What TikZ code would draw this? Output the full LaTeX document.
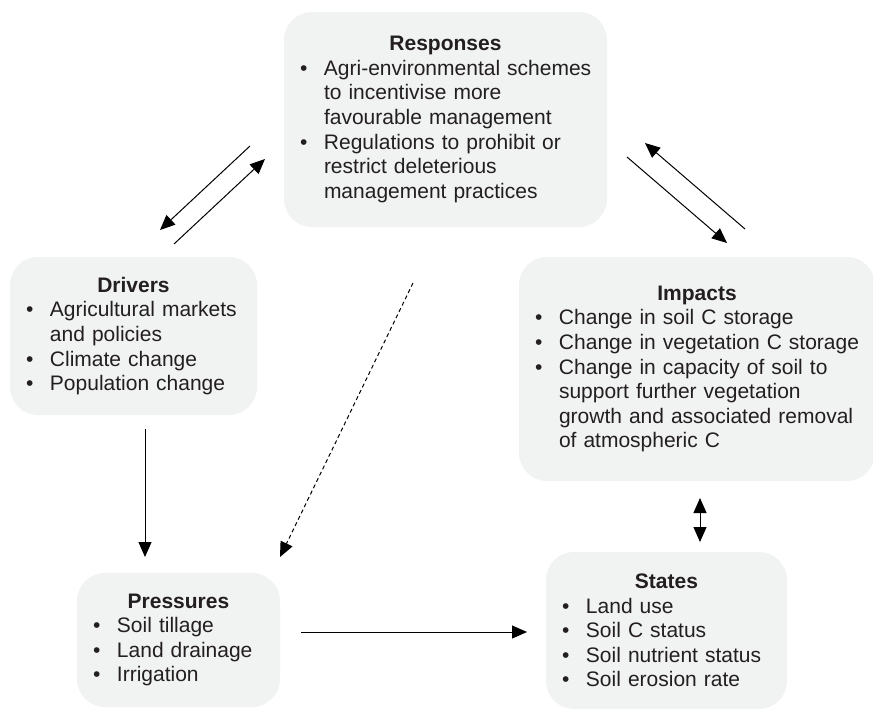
\documentclass[tikz,border=0pt]{standalone}
\usepackage{fontspec}
\setmainfont{Liberation Sans}
\usetikzlibrary{arrows.meta}
\definecolor{PanelGray}{RGB}{241,242,242}
\definecolor{InkGray}{RGB}{35,31,32}
\newcommand{\panelhead}[1]{{\centering\bfseries #1\par}}
\newcommand{\bitem}[1]{\mbox{\makebox[24pt][l]{\textbullet}#1}}
\newcommand{\bcont}[1]{\mbox{\hspace*{24pt}#1}}

\begin{document}
\begin{tikzpicture}[x=1pt,y=-1pt,>={Triangle[length=15pt,width=13pt]},
    panel/.style={rectangle,rounded corners=28pt,fill=PanelGray,text=InkGray,
      inner xsep=16pt,inner ysep=0pt,align=left,font=\fontsize{21}{24.6}\selectfont},
    link/.style={->,line width=1pt,black}]
      \useasboundingbox (0,0) rectangle (873,710);
      % the five boxes
      \node[panel,text width=291pt,minimum height=215pt] (resp) at (445.5,119.5) {\panelhead{Responses}
        \bitem{Agri-environmental schemes}\\ \bcont{to incentivise more}\\ \bcont{favourable management}\\
        \bitem{Regulations to prohibit or}\\ \bcont{restrict deleterious}\\ \bcont{management practices}};
      \node[panel,text width=215pt,minimum height=158pt] (drv) at (133.5,336) {\panelhead{Drivers}
        \bitem{Agricultural markets}\\ \bcont{and policies}\\ \bitem{Climate change}\\ \bitem{Population change}};
      \node[panel,text width=324pt,minimum height=224pt] (imp) at (697,369) {\panelhead{Impacts}
        \bitem{Change in soil C storage}\\ \bitem{Change in vegetation C storage}\\
        \bitem{Change in capacity of soil to}\\ \bcont{support further vegetation}\\
        \bcont{growth and associated removal}\\ \bcont{of atmospheric C}};
      \node[panel,text width=171pt,minimum height=134pt] (prs) at (178.5,640) {\panelhead{Pressures}
        \bitem{Soil tillage}\\ \bitem{Land drainage}\\ \bitem{Irrigation}};
      \node[panel,text width=209pt,minimum height=157pt] (sta) at (666.5,630.5) {\panelhead{States}
        \bitem{Land use}\\ \bitem{Soil C status}\\ \bitem{Soil nutrient status}\\ \bitem{Soil erosion rate}};
      % arrow ends
      \coordinate (rd1) at (250,146); \coordinate (rd2) at (160,230);
      \coordinate (dr1) at (174,244); \coordinate (dr2) at (265,159);
      \coordinate (ri1) at (627,157); \coordinate (ri2) at (727,243);
      \coordinate (ir1) at (745,229); \coordinate (ir2) at (645,143);
      \coordinate (rp1) at (413,283); \coordinate (rp2) at (280,557);
      \coordinate (dp1) at (145,429); \coordinate (dp2) at (145,557);
      \coordinate (ps1) at (301,632); \coordinate (ps2) at (527,632);
      \coordinate (is1) at (700,498); \coordinate (is2) at (700,542);
      \draw[link] (rd1) -- (rd2);
      \draw[link] (dr1) -- (dr2);
      \draw[link] (ri1) -- (ri2);
      \draw[link] (ir1) -- (ir2);
      \draw[link,dash pattern=on 4pt off 3pt] (rp1) -- (rp2);
      \draw[link] (dp1) -- (dp2);
      \draw[link] (ps1) -- (ps2);
      \draw[link,<->] (is1) -- (is2);
    \end{tikzpicture}
\end{document}
